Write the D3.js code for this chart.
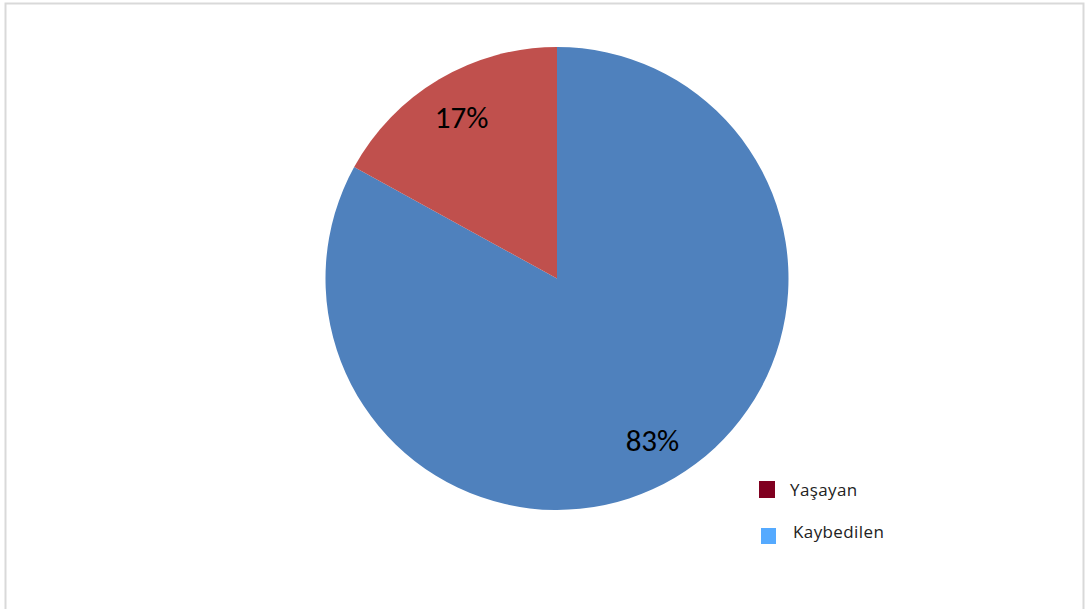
<!DOCTYPE html>
<html>
<head>
<meta charset="utf-8">
<script src="https://cdn.jsdelivr.net/npm/d3@7"></script>
<style>
  html, body { margin: 0; padding: 0; background: #fff; }
  svg { display: block; }
</style>
</head>
<body>
<svg id="chart" width="1089" height="609"></svg>
<script>
// Slice order: drawn clockwise from 12 o'clock
const sliceNames = ["Kaybedilen", "Yaşayan"];
const sliceValues = [83, 17];
const sliceColors = ["#4f81bd", "#c0504d"];

// Legend entries (own swatch colours)
const legendNames = ["Yaşayan", "Kaybedilen"];
const legendColors = ["#800020", "#55aaff"];

const svg = d3.select("#chart");
const W = 1089, H = 609;

// outer frame
svg.append("path")
  .attr("d", `M5.5,${H} V3.5 H1083.5 V${H}`)
  .attr("fill", "none")
  .attr("stroke", "#d9d9d9")
  .attr("stroke-width", 2);

const cx = 557, cy = 278.5, r = 231.5;
const g = svg.append("g").attr("transform", `translate(${cx},${cy})`);

const pie = d3.pie().sort(null).value(d => d.value);
const arcs = pie(sliceNames.map((n, i) => ({ name: n, value: sliceValues[i], color: sliceColors[i] })));
const arc = d3.arc().innerRadius(0).outerRadius(r);
const labelArc = d3.arc().innerRadius(r * 0.81).outerRadius(r * 0.81);

g.selectAll("path.slice")
  .data(arcs)
  .join("path")
  .attr("class", "slice")
  .attr("d", arc)
  .attr("fill", d => d.data.color);

const total = d3.sum(sliceValues);
g.selectAll("text.pct")
  .data(arcs)
  .join("text")
  .attr("class", "pct")
  .attr("transform", d => `translate(${labelArc.centroid(d)})`)
  .attr("text-anchor", "middle")
  .attr("dominant-baseline", "central")
  .attr("font-family", "Carlito, Lato, 'Open Sans', sans-serif")
  .attr("font-size", 31)
  .attr("fill", "#000")
  .text(d => Math.round(d.data.value / total * 100) + "%");

// legend
const legend = svg.append("g");
const lx = [759, 761], ly = [481, 528], ls = [16, 15], tx = [790, 793], ty = [489, 531];
legendNames.forEach((n, i) => {
  legend.append("rect")
    .attr("x", lx[i]).attr("y", ly[i])
    .attr("width", ls[i]).attr("height", ls[i] + 1)
    .attr("fill", legendColors[i]);
  legend.append("text")
    .attr("x", tx[i]).attr("y", ty[i])
    .attr("dominant-baseline", "central")
    .attr("font-family", "'Open Sans', sans-serif")
    .attr("font-size", 17)
    .attr("letter-spacing", 0.4)
    .attr("fill", "#222")
    .text(n);
});
</script>
</body>
</html>
